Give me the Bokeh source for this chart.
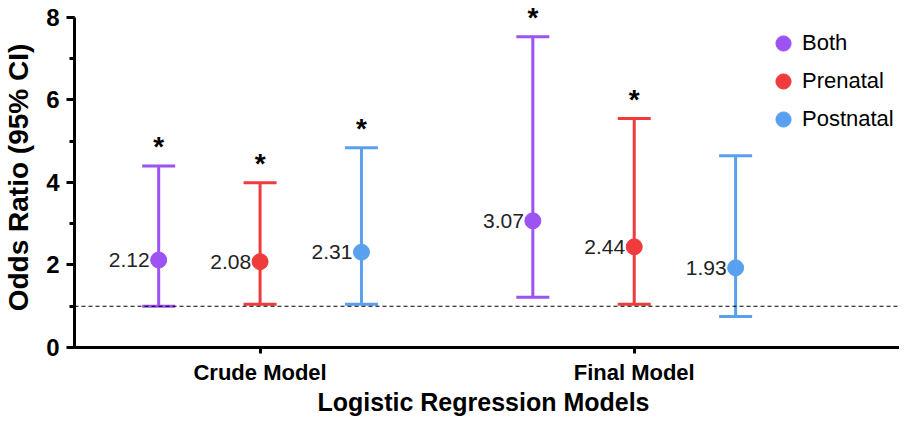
from bokeh.plotting import figure
from bokeh.models import (ColumnDataSource, FixedTicker, SingleIntervalTicker, Span,
                          Legend, LegendItem, Range1d)
from bokeh.core.properties import value
from bokeh.embed import file_html
from bokeh.resources import INLINE

# ---- data ----
models = ["Crude Model", "Final Model"]
series = ["Both", "Prenatal", "Postnatal"]
colors = ["#9D52F2", "#F03B3D", "#5AA0F0"]
odds = {"Both": [2.12, 3.07], "Prenatal": [2.08, 2.44], "Postnatal": [2.31, 1.93]}
lower = {"Both": [1.00, 1.22], "Prenatal": [1.05, 1.05], "Postnatal": [1.05, 0.75]}
upper = {"Both": [4.40, 7.53], "Prenatal": [3.99, 5.55], "Postnatal": [4.84, 4.65]}
significant = {"Both": [True, True], "Prenatal": [True, True], "Postnatal": [True, False]}
y_ticks = [0, 2, 4, 6, 8]
reference_line = 1
x_title = "Logistic Regression  Models"
y_title = "Odds Ratio (95% CI)"

FONT = "Liberation Sans"

p = figure(width=899, height=419, output_backend="svg", toolbar_location=None,
           x_range=Range1d(0.504, 2.709), y_range=Range1d(0, 8.24),
           min_border_left=72, min_border_right=0, min_border_top=7, min_border_bottom=72)
p.outline_line_color = None
p.xgrid.visible = False
p.ygrid.visible = False
p.background_fill_color = "white"

group_pos = [i + 1 for i in range(len(models))]
dodge = 0.271

legend_items = []
for k, s in enumerate(series):
    xs = [g + (k - 1) * dodge for g in group_pos]
    src = ColumnDataSource(dict(x=xs, y=odds[s], lo=lower[s], hi=upper[s],
                                lab=["%.2f" % v for v in odds[s]]))
    p.segment(x0="x", y0="lo", x1="x", y1="hi", source=src, line_color=colors[k], line_width=3)
    p.scatter(x="x", y="lo", source=src, marker="dash", size=33, line_color=colors[k], line_width=3)
    p.scatter(x="x", y="hi", source=src, marker="dash", size=33, line_color=colors[k], line_width=3)
    r = p.scatter(x="x", y="y", source=src, marker="circle", size=16,
                  fill_color=colors[k], line_color=colors[k])
    legend_items.append(LegendItem(label=s, renderers=[r]))
    p.text(x="x", y="y", text="lab", source=src, text_align="right", text_baseline="middle",
           x_offset=-9, text_font=value(FONT), text_font_size="21px", text_color="#222222")
    sx = [x for x, sig in zip(xs, significant[s]) if sig]
    sy = [h for h, sig in zip(upper[s], significant[s]) if sig]
    p.text(x=sx, y=sy, text=["*"] * len(sx), text_align="center", text_baseline="alphabetic",
           y_offset=-19, text_font=value(FONT), text_font_size="28px", text_font_style="bold",
           text_color="black")

p.add_layout(Span(location=reference_line, dimension="width", line_color="black",
                  line_dash="4 3", line_width=1.2))

# axes
yax = p.yaxis[0]
yax.ticker = SingleIntervalTicker(interval=2, num_minor_ticks=2)
yax.bounds = (y_ticks[0], y_ticks[-1])
yax.axis_line_width = 3
yax.major_tick_line_width = 3
yax.minor_tick_line_width = 3
yax.major_tick_out = 8
yax.major_tick_in = 0
yax.minor_tick_out = 5
yax.minor_tick_in = 0
yax.major_label_text_font = FONT
yax.major_label_text_font_size = "24px"
yax.major_label_text_font_style = "bold"
yax.major_label_text_color = "black"
yax.major_label_standoff = 7
yax.axis_label = y_title
yax.axis_label_text_font = FONT
yax.axis_label_text_font_size = "28px"
yax.axis_label_text_font_style = "bold"
yax.axis_label_text_color = "black"
yax.axis_label_standoff = 9

xax = p.xaxis[0]
xax.ticker = FixedTicker(ticks=group_pos, minor_ticks=[])
xax.major_label_overrides = {g: m for g, m in zip(group_pos, models)}
xax.axis_line_width = 3
xax.major_tick_line_width = 3
xax.major_tick_out = 6
xax.major_tick_in = 0
xax.minor_tick_out = 0
xax.major_label_text_font = FONT
xax.major_label_text_font_size = "22px"
xax.major_label_text_font_style = "bold"
xax.major_label_text_color = "black"
xax.major_label_standoff = 6
xax.axis_label = x_title
xax.axis_label_text_font = FONT
xax.axis_label_text_font_size = "25px"
xax.axis_label_text_font_style = "bold"
xax.axis_label_text_color = "black"
xax.axis_label_standoff = 0

legend = Legend(items=legend_items, location=(690, 209), orientation="vertical")
legend.glyph_width = 38
legend.glyph_height = 38
legend.spacing = 0
legend.padding = 0
legend.margin = 0
legend.label_standoff = 0
legend.label_text_font = FONT
legend.label_text_font_size = "22px"
legend.label_text_color = "black"
legend.border_line_color = None
legend.background_fill_alpha = 0
p.add_layout(legend)

open("out.html", "w").write(file_html(p, INLINE))
